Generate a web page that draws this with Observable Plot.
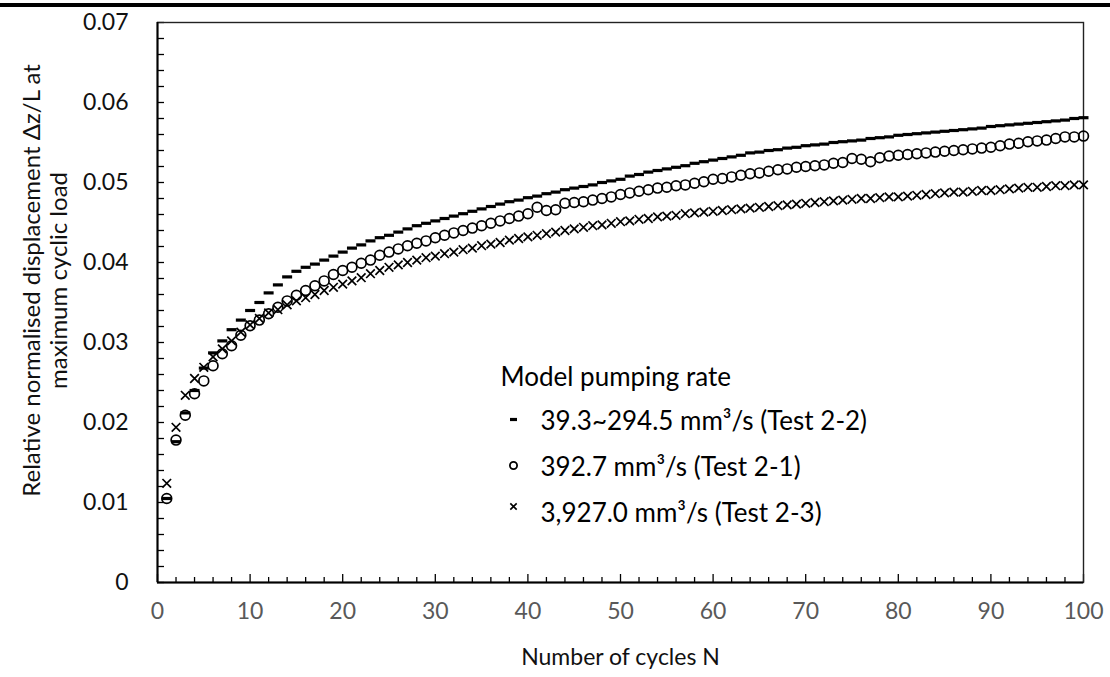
<!DOCTYPE html>
<html><head><meta charset="utf-8">
<script src="https://cdn.jsdelivr.net/npm/d3@7"></script>
<script src="https://cdn.jsdelivr.net/npm/@observablehq/plot@0.6"></script>
<style>
body{margin:0;background:#fff;}
#wrap{position:relative;width:1110px;height:677px;}
#bar{position:absolute;left:0;top:3px;width:1110px;height:4px;background:#000;}
svg{font-family:Lato,"Open Sans",sans-serif;}
</style></head><body><div id="wrap"><div id="bar"></div></div>
<script>
const cycles = [1,2,3,4,5,6,7,8,9,10,11,12,13,14,15,16,17,18,19,20,21,22,23,24,25,26,27,28,29,30,31,32,33,34,35,36,37,38,39,40,41,42,43,44,45,46,47,48,49,50,51,52,53,54,55,56,57,58,59,60,61,62,63,64,65,66,67,68,69,70,71,72,73,74,75,76,77,78,79,80,81,82,83,84,85,86,87,88,89,90,91,92,93,94,95,96,97,98,99,100];

// Test 2-2 (39.3~294.5 mm3/s) - dash markers
const test22 = [0.0105,0.0176,0.0212,0.0240,0.0268,0.0287,0.0302,0.0316,0.0328,0.0340,
0.0350,0.0362,0.0372,0.0382,0.0389,0.0394,0.0398,0.0403,0.0408,0.0413,
0.0418,0.0422,0.0427,0.0431,0.0434,0.0438,0.0442,0.0446,0.0449,0.0452,
0.0455,0.0458,0.0461,0.0464,0.0467,0.0470,0.0473,0.0476,0.0478,0.0481,
0.0483,0.0486,0.0488,0.0491,0.0493,0.0495,0.0497,0.0500,0.0502,0.0504,
0.0508,0.0510,0.0513,0.0515,0.0517,0.0519,0.0521,0.0524,0.0526,0.0528,
0.0530,0.0532,0.0534,0.0537,0.0538,0.0540,0.0541,0.0543,0.0544,0.0546,
0.0547,0.0548,0.0550,0.0551,0.0552,0.0553,0.0555,0.0556,0.0557,0.0559,
0.0560,0.0561,0.0562,0.0563,0.0564,0.0565,0.0566,0.0567,0.0568,0.0570,
0.0571,0.0572,0.0573,0.0574,0.0575,0.0576,0.0577,0.0578,0.0580,0.0581];

// Test 2-1 (392.7 mm3/s) - open circles
const test21 = [0.0105,0.0178,0.0209,0.0236,0.0252,0.0271,0.0286,0.0296,0.0309,0.0321,
0.0328,0.0336,0.0344,0.0352,0.0359,0.0365,0.0371,0.0377,0.0385,0.0390,
0.0394,0.0399,0.0403,0.0409,0.0413,0.0417,0.0421,0.0424,0.0427,0.0431,
0.0434,0.0437,0.0440,0.0443,0.0446,0.0449,0.0452,0.0455,0.0458,0.0461,
0.0469,0.0465,0.0466,0.0474,0.0475,0.0476,0.0478,0.0480,0.0482,0.0485,
0.0487,0.0489,0.0491,0.0493,0.0494,0.0496,0.0497,0.0499,0.0501,0.0504,
0.0505,0.0507,0.0509,0.0511,0.0512,0.0514,0.0516,0.0517,0.0519,0.0520,
0.0521,0.0522,0.0524,0.0525,0.0530,0.0529,0.0526,0.0531,0.0533,0.0534,
0.0535,0.0536,0.0537,0.0538,0.0539,0.0540,0.0541,0.0542,0.0543,0.0544,
0.0546,0.0548,0.0549,0.0551,0.0552,0.0553,0.0555,0.0557,0.0557,0.0558];

// Test 2-3 (3,927.0 mm3/s) - crosses
const test23 = [0.0124,0.0194,0.0234,0.0255,0.0269,0.0282,0.0292,0.0302,0.0313,0.0322,
0.0330,0.0337,0.0341,0.0347,0.0352,0.0356,0.0360,0.0365,0.0369,0.0373,
0.0377,0.0381,0.0386,0.0390,0.0394,0.0397,0.0400,0.0403,0.0406,0.0408,
0.0411,0.0413,0.0416,0.0418,0.0421,0.0423,0.0425,0.0428,0.0430,0.0432,
0.0434,0.0436,0.0438,0.0440,0.0442,0.0444,0.0446,0.0447,0.0449,0.0451,
0.0452,0.0454,0.0455,0.0457,0.0458,0.0459,0.0461,0.0462,0.0463,0.0464,
0.0465,0.0466,0.0467,0.0468,0.0469,0.0470,0.0471,0.0472,0.0473,0.0474,
0.0475,0.0476,0.0477,0.0478,0.0479,0.0480,0.0480,0.0481,0.0482,0.0482,
0.0483,0.0484,0.0485,0.0486,0.0487,0.0488,0.0488,0.0489,0.0490,0.0490,
0.0491,0.0492,0.0493,0.0494,0.0494,0.0495,0.0496,0.0496,0.0497,0.0497];

const xTickLabels = [0,10,20,30,40,50,60,70,80,90,100];
const xMinorTicks = [2,4,6,8,12,14,16,18,22,24,26,28,32,34,36,38,42,44,46,48,52,54,56,58,62,64,66,68,72,74,76,78,82,84,86,88,92,94,96,98];
const yTickLabels = [0,0.01,0.02,0.03,0.04,0.05,0.06,0.07];
const yTickText = ["0","0.01","0.02","0.03","0.04","0.05","0.06","0.07"];
const yMinorTicks = [0.002,0.004,0.006,0.008,0.012,0.014,0.016,0.018,0.022,0.024,0.026,0.028,0.032,0.034,0.036,0.038,0.042,0.044,0.046,0.048,0.052,0.054,0.056,0.058,0.062,0.064,0.066,0.068];

const legendTitle = "Model pumping rate";
const legendLabels = ["39.3~294.5 mm³/s (Test 2-2)", "392.7 mm³/s (Test 2-1)", "3,927.0 mm³/s (Test 2-3)"];
const xTitle = "Number of cycles N";
const yTitle = "Relative normalised displacement Δz/L at\nmaximum cyclic load";

const rows22 = cycles.map((n, i) => ({n, v: test22[i]}));
const rows21 = cycles.map((n, i) => ({n, v: test21[i]}));
const rows23 = cycles.map((n, i) => ({n, v: test23[i]}));

const W = 1110, H = 677, mL = 157, mR = 27, mT = 22, mB = 95;
const pw = W - mL - mR, ph = H - mT - mB;

const dashSymbol = {draw(ctx) { ctx.rect(-5, -1.6, 10, 3.2); }};
const dashLegend = {draw(ctx) { ctx.rect(-3.5, -1.6, 7, 3.2); }};
const FS = 23, LFS = 26;

// legend layout (pixel offsets from the frame's top-left corner)
const legX = 343, legSymX = 356, legTextX = 383;
const legTitleY = 345;
const legRowY = [389, 435, 481];
const legSymY = [397, 443, 484];

const chart = Plot.plot({
  width: W, height: H,
  marginLeft: mL, marginRight: mR, marginTop: mT, marginBottom: mB,
  x: {domain: [0, 100], axis: null},
  y: {domain: [0, 0.07], axis: null},
  style: {fontFamily: "Lato, 'Open Sans', sans-serif", background: "#fff"},
  marks: [
    // ticks (inward)
    Plot.ruleX(xMinorTicks, {x: d => d, insetTop: ph - 5, stroke: "#000", strokeWidth: 1.3}),
    Plot.ruleX(xTickLabels, {x: d => d, insetTop: ph - 8, stroke: "#000", strokeWidth: 1.3}),
    Plot.ruleY(yMinorTicks, {y: d => d, insetRight: pw - 7, stroke: "#000", strokeWidth: 1.3}),
    Plot.ruleY(yTickLabels, {y: d => d, insetRight: pw - 7, stroke: "#000", strokeWidth: 1.3}),
    Plot.frame({stroke: "#222", strokeWidth: 1.4}),
    Plot.ruleX([0], {stroke: "#000", strokeWidth: 2}),
    Plot.ruleY([0], {stroke: "#000", strokeWidth: 2}),
    // tick labels
    Plot.text(xTickLabels, {x: d => d, frameAnchor: "bottom", dy: 36, text: d => String(d), fontSize: FS, fill: "#595959"}),
    Plot.text(yTickLabels, {y: d => d, frameAnchor: "left", dx: -29, textAnchor: "end", text: (d, i) => yTickText[i], fontSize: FS, fill: "#111"}),
    // axis titles
    Plot.text([xTitle], {frameAnchor: "bottom", dy: 82, text: d => d, fontSize: FS, fill: "#111"}),
    Plot.text([yTitle], {frameAnchor: "left", dx: -113, dy: -22, rotate: -90, textAnchor: "middle", text: d => d, fontSize: 24, lineHeight: 1.15, fill: "#111"}),
    // data
    Plot.dot(rows22, {x: "n", y: "v", symbol: dashSymbol, fill: "#000", stroke: "none"}),
    Plot.dot(rows21, {x: "n", y: "v", symbol: "circle", r: 4.9, fill: "none", stroke: "#000", strokeWidth: 1.7}),
    Plot.dot(rows23, {x: "n", y: "v", symbol: "times", r: 4, fill: "none", stroke: "#000", strokeWidth: 1.7}),
    // legend
    Plot.text([legendTitle], {frameAnchor: "top-left", dx: legX, dy: legTitleY, textAnchor: "start", text: d => d, fontSize: LFS, fill: "#000"}),
    Plot.text([legendLabels[0]], {frameAnchor: "top-left", dx: legTextX, dy: legRowY[0], textAnchor: "start", text: d => d, fontSize: LFS, fill: "#000"}),
    Plot.text([legendLabels[1]], {frameAnchor: "top-left", dx: legTextX, dy: legRowY[1], textAnchor: "start", text: d => d, fontSize: LFS, fill: "#000"}),
    Plot.text([legendLabels[2]], {frameAnchor: "top-left", dx: legTextX, dy: legRowY[2], textAnchor: "start", text: d => d, fontSize: LFS, fill: "#000"}),
    Plot.dot([legendLabels[0]], {frameAnchor: "top-left", dx: legSymX, dy: legSymY[0], symbol: dashLegend, fill: "#000", stroke: "none"}),
    Plot.dot([legendLabels[1]], {frameAnchor: "top-left", dx: legSymX, dy: legSymY[1], symbol: "circle", r: 3.6, fill: "none", stroke: "#000", strokeWidth: 1.8}),
    Plot.dot([legendLabels[2]], {frameAnchor: "top-left", dx: legSymX, dy: legSymY[2], symbol: "times", r: 3, fill: "none", stroke: "#000", strokeWidth: 1.6})
  ]
});
document.getElementById("wrap").prepend(chart);
</script></body></html>
